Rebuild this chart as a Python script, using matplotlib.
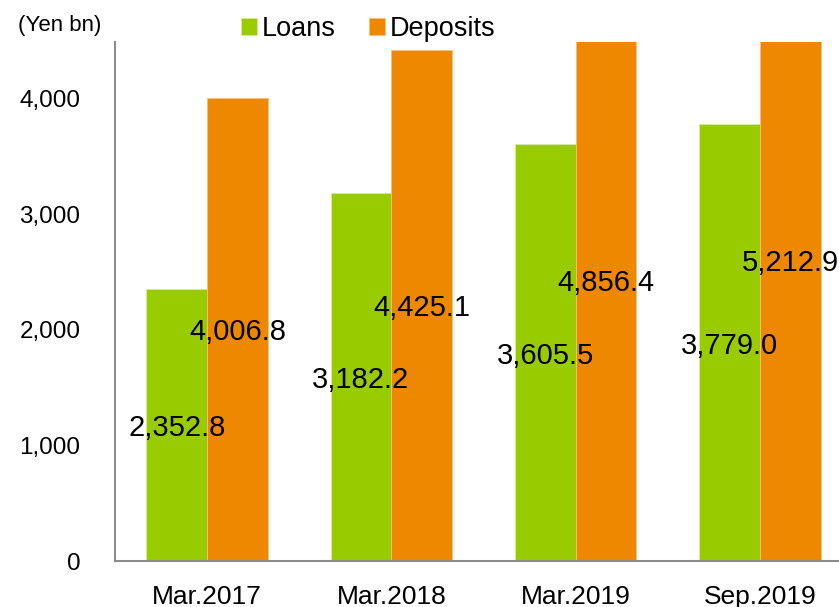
import matplotlib
matplotlib.use("Agg")
import matplotlib.pyplot as plt
import numpy as np

categories = ["Mar.2017", "Mar.2018", "Mar.2019", "Sep.2019"]
loans = [2352.8, 3182.2, 3605.5, 3779.0]
deposits = [4006.8, 4425.1, 4856.4, 5212.9]
yticks = [0, 1000, 2000, 3000, 4000]
ytick_labels = ["0", "1,000", "2,000", "3,000", "4,000"]

plt.rcParams['font.family'] = ['Liberation Sans', 'DejaVu Sans']

green = "#99CC00"
orange = "#EE8800"

fig = plt.figure(figsize=(8.39, 6.07), dpi=100)
ax = fig.add_axes([115/839, 46/607, 737/839, 519/607])

x = np.arange(len(categories))
w = 0.33
b1 = ax.bar(x - w/2, loans, w, color=green, edgecolor="#d8eaa0", linewidth=0.6, label="Loans")
b2 = ax.bar(x + w/2, deposits, w, color=orange, edgecolor="#f5c080", linewidth=0.6, label="Deposits")

for xi, v in zip(x - w/2, loans):
    ax.text(xi, v/2, f"{v:,.1f}", ha="center", va="center_baseline", fontsize=21, color="black")
for xi, v in zip(x + w/2, deposits):
    ax.text(xi, v/2, f"{v:,.1f}", ha="center", va="center_baseline", fontsize=21, color="black")

ax.set_xlim(-0.5, 3.5)
ax.set_ylim(0, 4490)
ax.set_xticks(x)
ax.set_xticklabels(categories, fontsize=19)
ax.set_yticks(yticks)
ax.set_yticklabels(ytick_labels, fontsize=17.5)
ax.tick_params(axis="y", length=0, pad=25)
ax.tick_params(axis="x", length=0, pad=17)

for s in ["top", "right"]:
    ax.spines[s].set_visible(False)
for s in ["left", "bottom"]:
    ax.spines[s].set_color("#8c8c8c")
    ax.spines[s].set_linewidth(1.5)

fig.text(60/839, 1 - 25/607, "(Yen bn)", fontsize=16, ha="center", va="center")

fig.legend(handles=[b1, b2], loc="center left", bbox_to_anchor=(241/839, 1 - 29/607),
           ncol=2, frameon=False, fontsize=19.5, handlelength=0.58, handleheight=0.6,
           handletextpad=0.18, columnspacing=1.25, borderpad=0, borderaxespad=0)

fig.savefig("out.png", dpi=100)
